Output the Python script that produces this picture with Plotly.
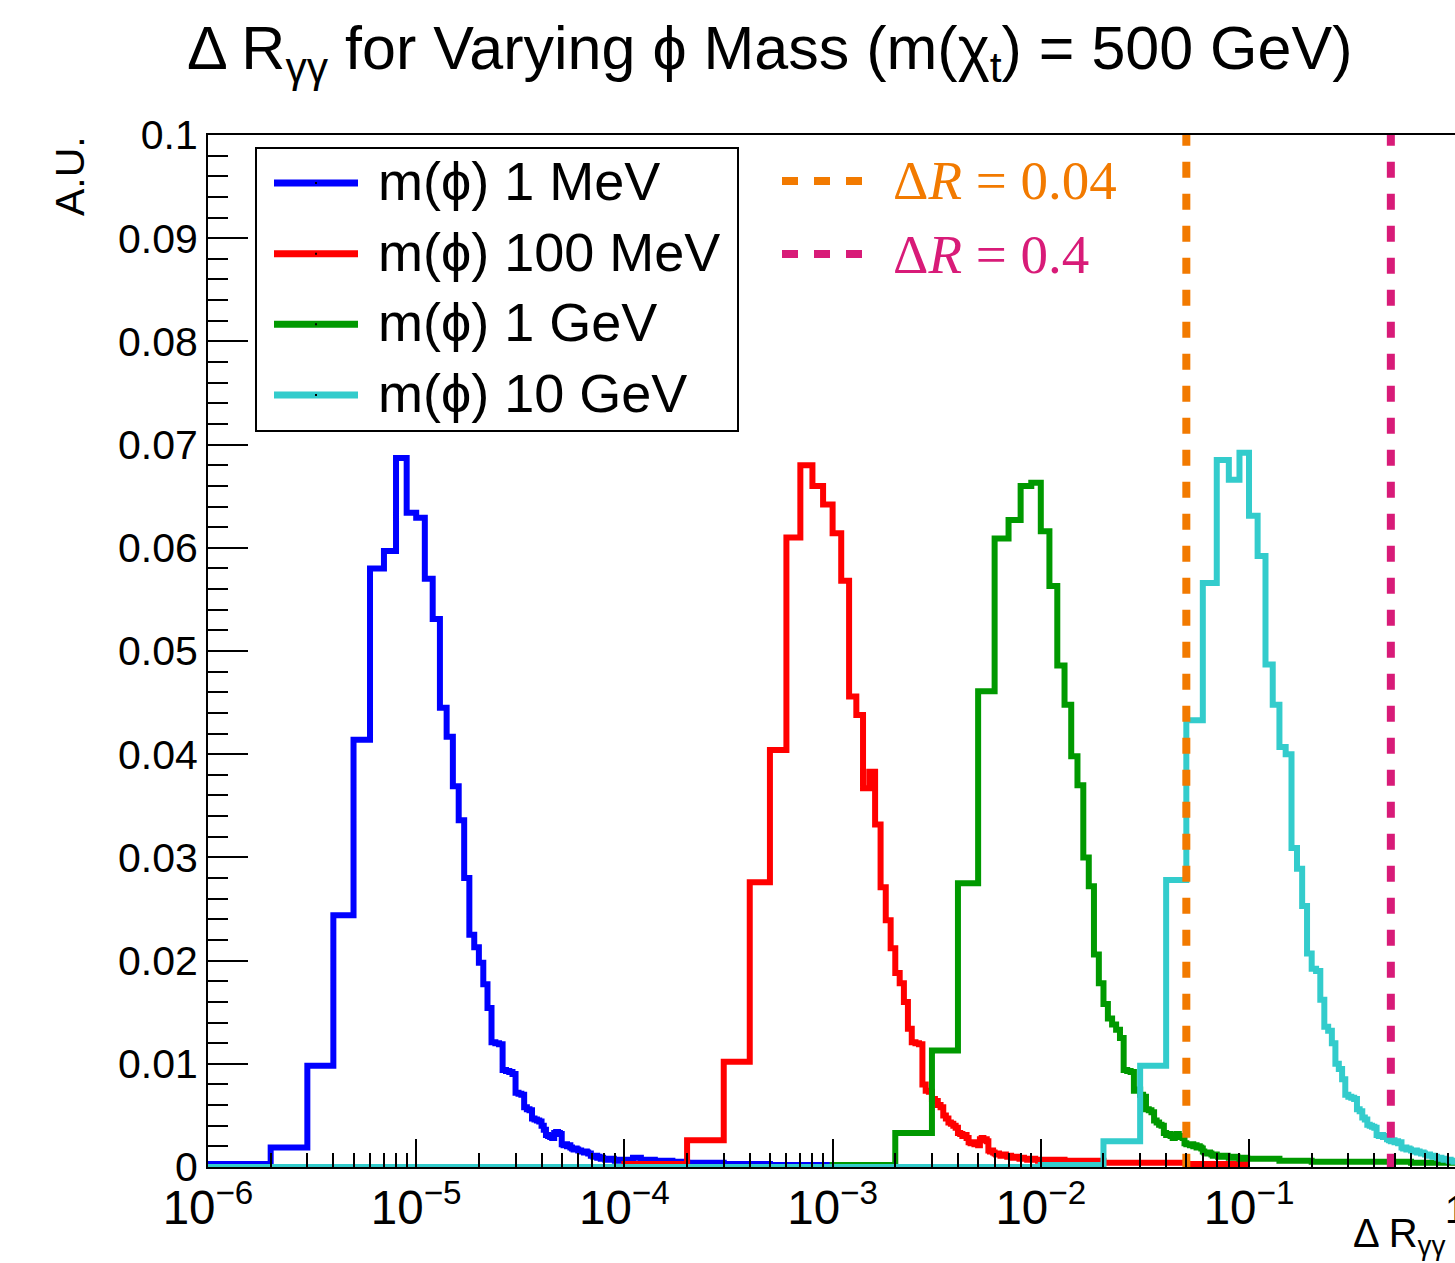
import plotly.graph_objects as go

# ---------------- data ----------------
# Each histogram: linear bins of fixed width; FINE[k] is the content of bin [k*w, (k+1)*w]
# followed by coarser tail bins whose upper edges are listed in *_TAIL_EDGES.
SERIES_NAMES = ["m(ϕ) 1 MeV", "m(ϕ) 100 MeV", "m(ϕ) 1 GeV", "m(ϕ) 10 GeV"]
SERIES_COLORS = ["#0000FF", "#FF0000", "#009900", "#33CCCC"]

BLUE_WIDTH = 1e-6
BLUE_FINE = [
    0.0, 0.0003, 0.0019, 0.0098, 0.0244, 0.0414, 0.0580, 0.0597, 0.0687, 0.0634,
    0.0629, 0.0570, 0.0531, 0.0445, 0.0417, 0.0369, 0.0336, 0.0280, 0.0225, 0.0213,
    0.0198, 0.0177, 0.0154, 0.0121, 0.0120, 0.0119, 0.0094, 0.0093, 0.0092, 0.0090,
    0.0072, 0.0071, 0.0070, 0.0058, 0.0056, 0.0055, 0.0047, 0.0046, 0.0045, 0.0044,
    0.0040, 0.0036, 0.0031, 0.0030, 0.0029, 0.0028, 0.0033, 0.0034, 0.0033, 0.0032,
    0.0022, 0.0021, 0.0022, 0.0020, 0.0021, 0.0019, 0.0018, 0.0017, 0.0018, 0.0017,
    0.0016, 0.0016, 0.0015, 0.0015, 0.0014, 0.0015, 0.0014, 0.0013, 0.0013, 0.0011,
    0.0011, 0.0010, 0.0010, 0.0011, 0.0009, 0.0010, 0.0009, 0.0008, 0.0009, 0.0008,
    0.0008, 0.0007, 0.0008, 0.0008, 0.0007, 0.0008, 0.0007, 0.0007, 0.0008, 0.0007,
    0.0006, 0.0007, 0.0006, 0.0006, 0.0007, 0.0006, 0.0006, 0.0006, 0.0007, 0.0006,
]
BLUE_TAIL_EDGES = [1.1e-4, 1.2e-4, 1.4e-4, 1.7e-4, 2e-4, 3e-4, 5e-4, 7e-4, 1e-3]
BLUE_TAIL = [0.0007, 0.0009, 0.0007, 0.0006, 0.0005, 0.0004, 0.0003, 0.0002, 0.0002]

RED_WIDTH = 1e-4
RED_FINE = [
    0.0, 0.0003, 0.0026, 0.0102, 0.0276, 0.0404, 0.0610, 0.0680, 0.0660, 0.0642,
    0.0614, 0.0568, 0.0456, 0.0438, 0.0367, 0.0383, 0.0332, 0.0271, 0.0239, 0.0212,
    0.0188, 0.0178, 0.0160, 0.0134, 0.0121, 0.0120, 0.0119, 0.0080, 0.0074, 0.0073,
    0.0066, 0.0064, 0.0060, 0.0058, 0.0050, 0.0047, 0.0043, 0.0042, 0.0040, 0.0038,
    0.0033, 0.0032, 0.0030, 0.0031, 0.0028, 0.0024, 0.0023, 0.0024, 0.0022, 0.0023,
    0.0021, 0.0027, 0.0028, 0.0026, 0.0027, 0.0025, 0.0016, 0.0015, 0.0016, 0.0014,
    0.0013, 0.0012, 0.0013, 0.0012, 0.0011, 0.0012, 0.0011, 0.0012, 0.0011, 0.0010,
    0.0010, 0.0011, 0.0010, 0.0009, 0.0010, 0.0009, 0.0010, 0.0009, 0.0009, 0.0008,
    0.0009, 0.0008, 0.0009, 0.0008, 0.0008, 0.0008, 0.0007, 0.0008, 0.0008, 0.0007,
    0.0008, 0.0007, 0.0007, 0.0008, 0.0007, 0.0007, 0.0007, 0.0006, 0.0007, 0.0007,
]
RED_TAIL_EDGES = [1.3e-2, 2e-2, 3e-2, 5e-2, 1e-1]
RED_TAIL = [0.0007, 0.0006, 0.0004, 0.0004, 0.0003]

GREEN_WIDTH = 1e-3
GREEN_FINE = [
    0.0, 0.0002, 0.0033, 0.0113, 0.0275, 0.0461, 0.0609, 0.0627, 0.0660, 0.0663,
    0.0616, 0.0563, 0.0486, 0.0448, 0.0398, 0.0370, 0.0300, 0.0272, 0.0206, 0.0178,
    0.0158, 0.0144, 0.0138, 0.0133, 0.0125, 0.0094, 0.0093, 0.0092, 0.0074, 0.0075,
    0.0070, 0.0068, 0.0056, 0.0055, 0.0053, 0.0045, 0.0043, 0.0041, 0.0040, 0.0033,
    0.0031, 0.0032, 0.0030, 0.0028, 0.0031, 0.0032, 0.0030, 0.0029, 0.0028, 0.0023,
    0.0022, 0.0022, 0.0021, 0.0022, 0.0020, 0.0021, 0.0019, 0.0020, 0.0019, 0.0018,
    0.0015, 0.0014, 0.0014, 0.0013, 0.0014, 0.0013, 0.0012, 0.0011, 0.0011, 0.0012,
    0.0011, 0.0010, 0.0011, 0.0011, 0.0010, 0.0011, 0.0010, 0.0010, 0.0011, 0.0010,
    0.0009, 0.0010, 0.0010, 0.0009, 0.0010, 0.0009, 0.0009, 0.0010, 0.0009, 0.0009,
    0.0008, 0.0009, 0.0009, 0.0008, 0.0009, 0.0008, 0.0008, 0.0009, 0.0008, 0.0008,
]
GREEN_TAIL_EDGES = [0.14, 0.2, 0.3, 0.6, 1.0]
GREEN_TAIL = [0.0008, 0.0006, 0.0005, 0.0005, 0.0004]

CYAN_WIDTH = 1e-2
CYAN_FINE = [
    0.0, 0.0002, 0.0025, 0.0098, 0.0278, 0.0433, 0.0566, 0.0685, 0.0666, 0.0692,
    0.0631, 0.0592, 0.0487, 0.0448, 0.0407, 0.0400, 0.0309, 0.0289, 0.0253, 0.0207,
    0.0192, 0.0190, 0.0162, 0.0136, 0.0132, 0.0120, 0.0100, 0.0095, 0.0085, 0.0070,
    0.0068, 0.0067, 0.0066, 0.0056, 0.0054, 0.0048, 0.0046, 0.0041, 0.0040, 0.0039,
    0.0038, 0.0031, 0.0030, 0.0031, 0.0029, 0.0030, 0.0027, 0.0026, 0.0025, 0.0026,
    0.0024, 0.0025, 0.0023, 0.0024, 0.0019, 0.0018, 0.0019, 0.0017, 0.0018, 0.0017,
    0.0016, 0.0016, 0.0015, 0.0016, 0.0014, 0.0015, 0.0014, 0.0013, 0.0014, 0.0013,
    0.0012, 0.0012, 0.0011, 0.0012, 0.0011, 0.0011, 0.0010, 0.0011, 0.0010, 0.0010,
    0.0009, 0.0009, 0.0008, 0.0009, 0.0008, 0.0008, 0.0007, 0.0008, 0.0007, 0.0007,
    0.0007, 0.0006, 0.0007, 0.0006, 0.0006, 0.0006, 0.0005, 0.0006, 0.0005, 0.0005,
]
CYAN_TAIL_EDGES = []
CYAN_TAIL = []

DR_VALUES = [0.05, 0.48]          # positions of the dashed ΔR lines as drawn
DR_LABELS = ["Δ<i>R</i> = 0.04", "Δ<i>R</i> = 0.4"]
DR_COLORS = ["#F27A00", "#D81B78"]

Y_TICKS = [0, 0.01, 0.02, 0.03, 0.04, 0.05, 0.06, 0.07, 0.08, 0.09, 0.1]

TITLE = "Δ R<sub>γγ</sub> for Varying ϕ Mass (m(χ<sub>t</sub>) = 500 GeV)"
X_TITLE = "Δ R<sub>γγ</sub>"
Y_TITLE = "A.U."

# ---------------- layout geometry (pixels) ----------------
W, H = 1455, 1263
L, T, B = 208, 135, 1167
X_RANGE = [-6, -0.0106]
Y_RANGE = [0, 0.1]
SANS = "Liberation Sans, Arial, Helvetica, DejaVu Sans, sans-serif"
SERIF = "Liberation Serif, Times New Roman, DejaVu Serif, serif"


def xp(px):
    return (px - L) / (W - L)


def yp(py):
    return (B - py) / (B - T)


def hist_xy(width, fine, tail_edges, tail_vals, floor=1e-9):
    edges = [k * width for k in range(len(fine) + 1)] + list(tail_edges)
    vals = list(fine) + list(tail_vals)
    xs = [max(e, floor) for e in edges]
    ys = vals + [vals[-1]]
    return xs, ys


fig = go.Figure()

series = [
    (BLUE_WIDTH, BLUE_FINE, BLUE_TAIL_EDGES, BLUE_TAIL),
    (RED_WIDTH, RED_FINE, RED_TAIL_EDGES, RED_TAIL),
    (GREEN_WIDTH, GREEN_FINE, GREEN_TAIL_EDGES, GREEN_TAIL),
    (CYAN_WIDTH, CYAN_FINE, CYAN_TAIL_EDGES, CYAN_TAIL),
]
for (w, fine, te, tv), name, col in zip(series, SERIES_NAMES, SERIES_COLORS):
    xs, ys = hist_xy(w, fine, te, tv)
    fig.add_trace(go.Scatter(x=xs, y=ys, mode="lines", name=name,
                             line=dict(color=col, width=6, shape="hv"),
                             showlegend=False, hoverinfo="skip"))

for v, col in zip(DR_VALUES, DR_COLORS):
    fig.add_trace(go.Scatter(x=[v, v], y=[Y_RANGE[1] * 1.005, Y_RANGE[0]], mode="lines",
                             line=dict(color=col, width=8, dash="16px,16px"),
                             showlegend=False, hoverinfo="skip"))

shapes = []
annotations = []

# legend box for histograms
shapes.append(dict(type="rect", xref="paper", yref="paper",
                   x0=xp(256), x1=xp(738), y0=yp(431), y1=yp(148),
                   line=dict(color="black", width=2), fillcolor="white", layer="above"))
rows = [183, 253.7, 324.3, 395]
for name, col, ry in zip(SERIES_NAMES, SERIES_COLORS, rows):
    shapes.append(dict(type="line", xref="paper", yref="paper",
                       x0=xp(274), x1=xp(358), y0=yp(ry), y1=yp(ry),
                       line=dict(color=col, width=7), layer="above"))
    shapes.append(dict(type="rect", xref="paper", yref="paper",
                       x0=xp(315), x1=xp(317), y0=yp(ry + 1), y1=yp(ry - 1),
                       line=dict(width=0), fillcolor="black", layer="above"))
    annotations.append(dict(text=name, xref="paper", yref="paper", x=xp(376), y=yp(ry - 2),
                            xanchor="left", yanchor="middle", showarrow=False,
                            font=dict(family=SANS, size=54, color="black")))

# ΔR legend
dr_rows = [181, 254]
for lab, col, ry in zip(DR_LABELS, DR_COLORS, dr_rows):
    shapes.append(dict(type="line", xref="paper", yref="paper",
                       x0=xp(782), x1=xp(862), y0=yp(ry), y1=yp(ry),
                       line=dict(color=col, width=8, dash="16px,16px"), layer="above"))
    annotations.append(dict(text=lab, xref="paper", yref="paper", x=xp(891), y=yp(ry),
                            xanchor="left", yanchor="middle", showarrow=False,
                            font=dict(family=SERIF, size=55, color=col)))

# title
annotations.append(dict(text=TITLE, xref="paper", yref="paper", x=xp(769), y=yp(52),
                        xanchor="center", yanchor="middle", showarrow=False,
                        font=dict(family=SANS, size=61, color="black")))
# axis titles
annotations.append(dict(text=X_TITLE, xref="paper", yref="paper", x=xp(1351), y=yp(1236),
                        xanchor="left", yanchor="middle", showarrow=False,
                        font=dict(family=SANS, size=40, color="black")))
annotations.append(dict(text=Y_TITLE, xref="paper", yref="paper", x=xp(70), y=yp(134),
                        xanchor="center", yanchor="top", showarrow=False, textangle=-90,
                        font=dict(family=SANS, size=41, color="black")))
# the "1" label at the clipped right end of the x axis
annotations.append(dict(text="1", xref="paper", yref="paper", x=xp(1455), y=yp(1210),
                        xanchor="center", yanchor="middle", showarrow=False,
                        font=dict(family=SANS, size=38, color="black")))

fig.update_layout(
    width=W, height=H,
    margin=dict(l=L, r=0, t=T, b=H - B, pad=0),
    paper_bgcolor="white", plot_bgcolor="white",
    showlegend=False,
    shapes=shapes, annotations=annotations,
    xaxis=dict(type="log", range=X_RANGE, showgrid=False, zeroline=False,
               showline=True, linecolor="black", linewidth=2, mirror=True,
               ticks="inside", ticklen=28, tickwidth=2, tickcolor="black",
               dtick=1, exponentformat="power",
               tickfont=dict(family=SANS, size=38, color="black"),
               minor=dict(ticks="inside", ticklen=14, tickwidth=2, tickcolor="black",
                          dtick="D1", showgrid=False)),
    yaxis=dict(range=Y_RANGE, showgrid=False, zeroline=False,
               showline=True, linecolor="black", linewidth=2, mirror=False,
               ticks="inside", ticklen=40, tickwidth=2, tickcolor="black",
               tickvals=Y_TICKS, ticktext=[f"{v:g}" for v in Y_TICKS],
               tickfont=dict(family=SANS, size=41, color="black"),
               minor=dict(ticks="inside", ticklen=20, tickwidth=2, tickcolor="black",
                          dtick=0.002, showgrid=False)),
)

fig.write_html("out.html", config={"displayModeBar": False},
               post_script="document.body.style.margin='0';document.body.style.overflow='hidden';")
